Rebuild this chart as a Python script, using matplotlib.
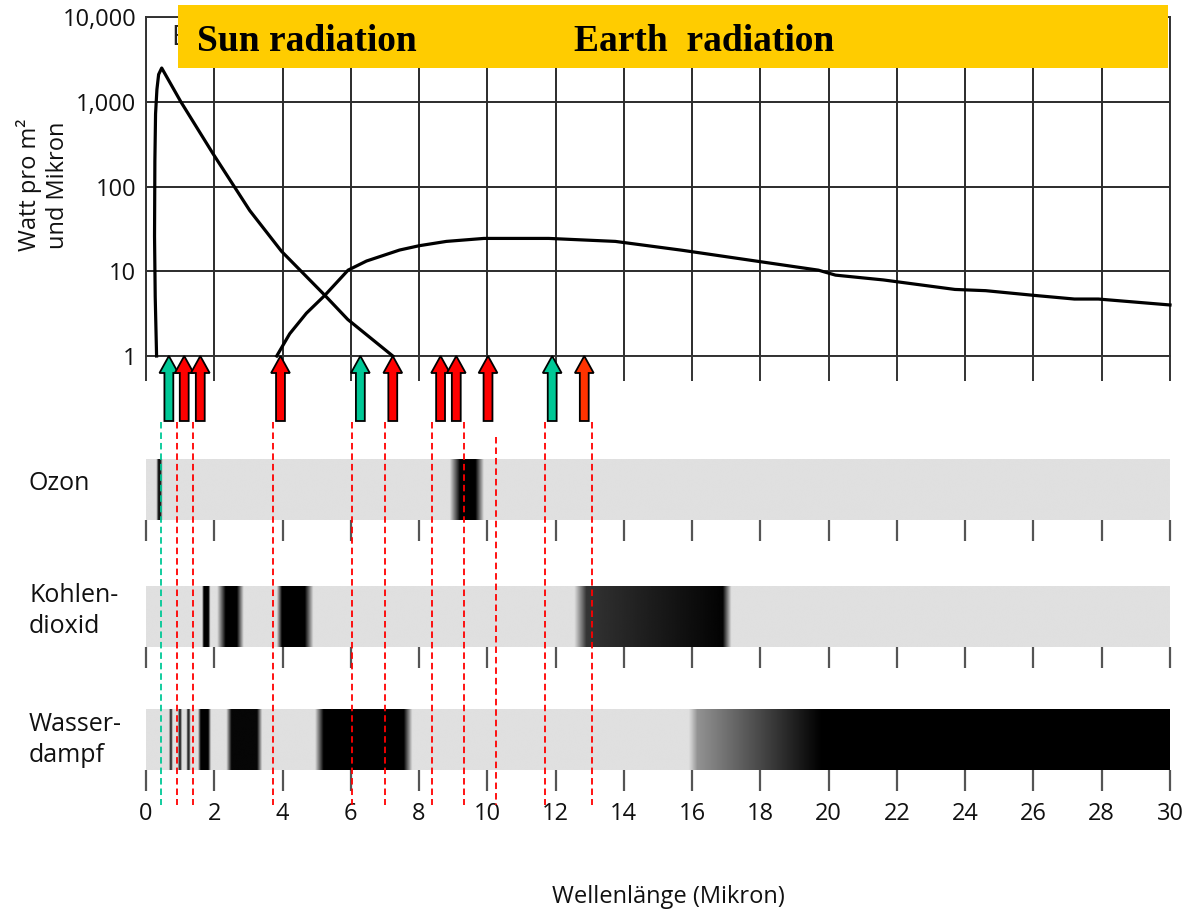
import numpy as np
import matplotlib
matplotlib.use('Agg')
import matplotlib.pyplot as plt
from matplotlib.patches import Rectangle
from matplotlib.ticker import NullLocator

# ---------------- data ----------------
x_ticks = list(range(0, 31, 2))
y_ticks = [1, 10, 100, 1000, 10000]
y_tick_labels = ['1', '10', '100', '1,000', '10,000']

# Sun radiation curve (micron, W/m2/micron)
sun_x = [0.31, 0.27, 0.25, 0.26, 0.28, 0.32, 0.37, 0.46, 1.02, 1.96, 3.04, 3.97, 5.24, 5.91, 7.23]
sun_y = [1.0, 5.0, 26, 200, 720, 1400, 2100, 2500, 1000, 245, 52, 17.2, 5.2, 2.7, 1.0]

# Earth radiation curve
earth_x = [3.83, 4.21, 4.70, 5.24, 5.92, 6.46, 7.43, 8.0, 8.8, 9.9, 11.8, 13.75, 15.7,
           17.7, 19.7, 20.2, 21.6, 23.7, 24.6, 26.0, 27.2, 27.9, 30.0]
earth_y = [1.0, 1.83, 3.2, 5.2, 10.3, 13.2, 17.8, 20.0, 22.5, 24.4, 24.4, 22.5, 17.7,
           13.5, 10.3, 9.0, 7.9, 6.1, 5.9, 5.2, 4.7, 4.7, 4.0]

# Arrows (micron) and colours
arrow_x = [0.67, 1.12, 1.59, 3.94, 6.28, 7.23, 8.63, 9.09, 10.02, 11.90, 12.84]
arrow_colors = ['#00C896', '#FF0000', '#FF0000', '#FF0000', '#00C896', '#FF0000',
                '#FF0000', '#FF0000', '#FF0000', '#00C896', '#FF3300']

# Dashed marker lines (micron) and colours
dash_x = [0.44, 0.90, 1.37, 3.71, 6.04, 6.99, 8.39, 9.33, 10.26, 11.68, 13.07]
dash_colors = ['#00C896'] + ['#FF0000'] * 10
dash_top = [422, 422, 422, 422, 422, 422, 422, 422, 437, 422, 422]

# Absorption bands: (start, end, darkness_start, darkness_end, soft_left, soft_right)
band_names = ['Ozon', 'Kohlen-\ndioxid', 'Wasser-\ndampf']
ozon_feats = [(0.30, 0.48, 0.92, 0.92, 0.06, 0.06),
              (8.90, 9.90, 1.0, 1.0, 0.30, 0.25)]
co2_feats = [(1.64, 1.88, 1.0, 1.0, 0.05, 0.05),
             (2.08, 2.86, 1.0, 1.0, 0.25, 0.20),
             (3.83, 4.90, 1.0, 1.0, 0.15, 0.25),
             (12.55, 17.15, 0.75, 1.0, 0.35, 0.25)]
h2o_feats = [(0.67, 0.78, 0.8, 0.8, 0.04, 0.04),
             (0.93, 1.05, 0.8, 0.8, 0.04, 0.04),
             (1.18, 1.30, 0.8, 0.8, 0.04, 0.04),
             (1.52, 1.90, 1.0, 1.0, 0.08, 0.08),
             (2.35, 3.40, 0.97, 0.97, 0.15, 0.15),
             (4.95, 7.80, 1.0, 1.0, 0.25, 0.25),
             (15.90, 19.80, 0.30, 1.0, 0.25, 0.0),
             (19.80, 30.0, 1.0, 1.0, 0.0, 0.0)]
band_feats = [ozon_feats, co2_feats, h2o_feats]

# ---------------- figure ----------------
W, H = 1185, 914
plt.rcParams['font.family'] = ['Open Sans', 'DejaVu Sans']
fig = plt.figure(figsize=(W / 100, H / 100), dpi=100)
TXT = '#111111'

X0, X1 = 146, 1170


def rect(top, bottom):
    return [X0 / W, 1 - bottom / H, (X1 - X0) / W, (bottom - top) / H]


# --- top spectrum plot ---
ax = fig.add_axes(rect(17, 356))
ax.set_yscale('log')
ax.set_xlim(0, 30)
ax.set_ylim(1, 10000)
ax.plot(sun_x, sun_y, color='black', lw=2.3, solid_joinstyle='round', zorder=3, clip_on=False)
ax.plot(earth_x, earth_y, color='black', lw=2.3, solid_joinstyle='round', zorder=3, clip_on=False)
ax.set_xticks(x_ticks)
ax.set_xticklabels([])
ax.tick_params(axis='x', direction='out', length=18, width=1.4, color='#333333')
ax.set_yticks(y_ticks)
ax.set_yticklabels(y_tick_labels, fontsize=17, color=TXT)
ax.yaxis.set_minor_locator(NullLocator())
ax.tick_params(axis='y', length=0, pad=7)
ax.grid(True, which='major', color='#2b2b2b', lw=1.4)
for s in ax.spines.values():
    s.set_color('#333333')
    s.set_linewidth(1.4)

fig.text(43 / W, 1 - 185 / H, 'Watt pro m²\nund Mikron', rotation=90, ha='center',
         va='center', multialignment='center', fontsize=17, linespacing=1.25, color=TXT)

# --- absorption bands ---
xs = np.linspace(0, 30, 3001)


def build(feats):
    a = np.zeros_like(xs)
    for (x0, x1, d0, d1, sl, sr) in feats:
        t = np.clip((xs - x0) / (x1 - x0), 0, 1)
        d = d0 + (d1 - d0) * t
        left = np.clip((xs - x0) / sl, 0, 1) if sl > 0 else (xs >= x0).astype(float)
        right = np.clip((x1 - xs) / sr, 0, 1) if sr > 0 else (xs <= x1).astype(float)
        e = np.minimum(left, right)
        a = np.maximum(a, d * e)
    return 0.878 * (1 - a)


band_tops = [459, 586, 709]
label_y = [483, 611, 740]
for i, (name, feats, top) in enumerate(zip(band_names, band_feats, band_tops)):
    bax = fig.add_axes(rect(top, top + 61))
    img = build(feats)
    bax.imshow(img[None, :], cmap='gray', vmin=0, vmax=1, extent=[0, 30, 0, 1],
               aspect='auto', interpolation='bilinear')
    bax.set_xlim(0, 30)
    bax.set_ylim(0, 1)
    for s in bax.spines.values():
        s.set_visible(False)
    bax.set_yticks([])
    bax.set_xticks(x_ticks)
    bax.tick_params(axis='x', direction='out', length=15, width=1.6, color='#555555',
                    labelbottom=(i == 2), labelsize=17, pad=8, labelcolor=TXT)
    fig.text(29 / W, 1 - label_y[i] / H, name, fontsize=18, va='center', ha='left',
             linespacing=1.3, color=TXT)

fig.text(668 / W, 1 - 897 / H, 'Wellenlänge (Mikron)', ha='center', va='center',
         fontsize=17, color=TXT)

# --- overlay: arrows and dashed lines ---
ov = fig.add_axes(rect(356, 805))
ov.set_xlim(0, 30)
ov.set_ylim(805, 356)
ov.axis('off')
ov.patch.set_alpha(0)
for x, c, t in zip(dash_x, dash_colors, dash_top):
    ov.plot([x, x], [t, 805], color=c, lw=1.3, dashes=(3.6, 2.2), zorder=2)
for x, c in zip(arrow_x, arrow_colors):
    ov.arrow(x, 421, 0, -65, width=0.26, head_width=0.55, head_length=17,
             length_includes_head=True, fc=c, ec='black', lw=1.3, zorder=5, clip_on=False)

# --- title banner ---
fig.text(171 / W, 1 - 38 / H, 'B', fontsize=20, va='center', ha='left', color='#222222', zorder=4)
fig.add_artist(Rectangle((178 / W, 1 - 68 / H), (1168 - 178) / W, 63 / H,
                         transform=fig.transFigure, fc='#FFCC00', ec='none', zorder=5))
fig.text(197 / W, 1 - 51 / H, 'Sun radiation', family='Liberation Serif', weight='bold',
         fontsize=27, va='baseline', ha='left', color='black', zorder=6)
fig.text(574 / W, 1 - 51 / H, 'Earth  radiation', family='Liberation Serif', weight='bold',
         fontsize=27, va='baseline', ha='left', color='black', zorder=6)

fig.savefig('out.png', dpi=100)
